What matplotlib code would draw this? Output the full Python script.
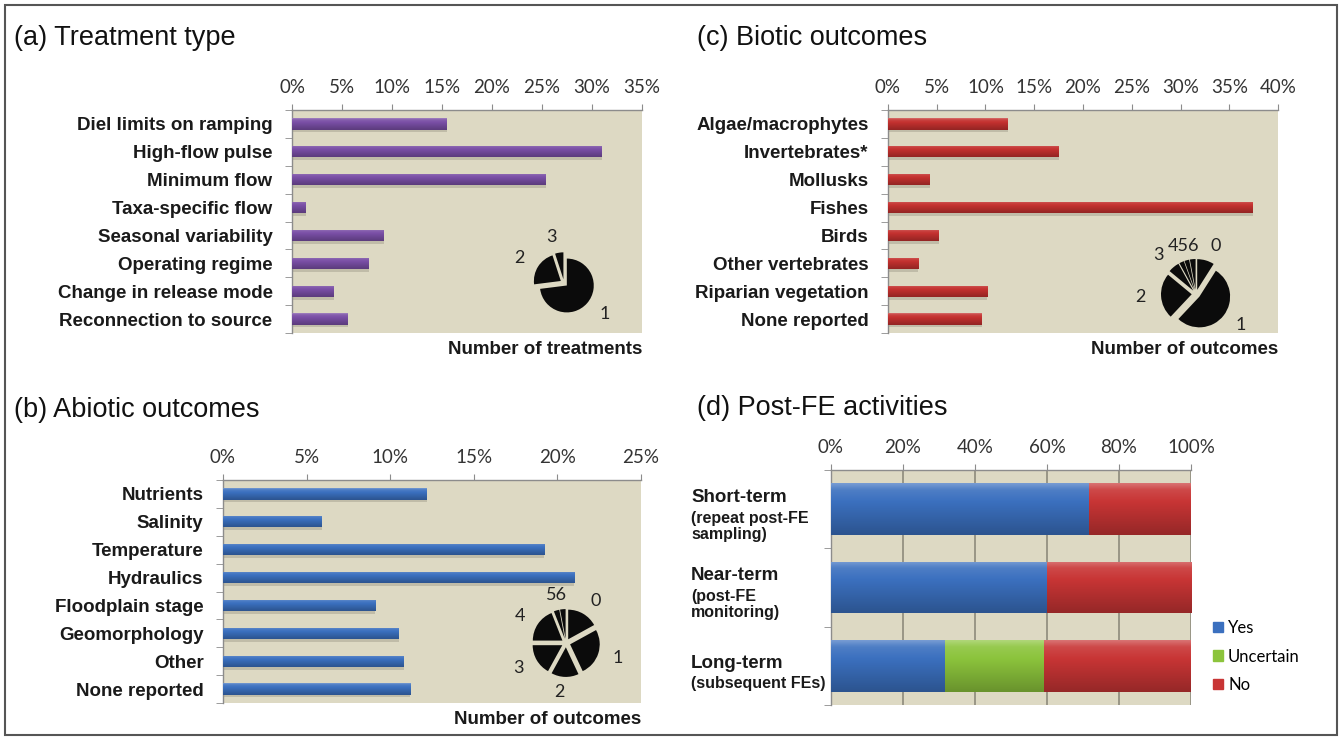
import numpy as np
import matplotlib
matplotlib.use("Agg")
import matplotlib.pyplot as plt
from matplotlib.colors import to_rgb
from matplotlib.patches import Patch, Rectangle
from matplotlib.ticker import PercentFormatter

plt.rcParams["font.family"] = ["Liberation Sans", "DejaVu Sans"]

# ---- data ----
treat_labels = ["Diel limits on ramping", "High-flow pulse", "Minimum flow",
                "Taxa-specific flow", "Seasonal variability", "Operating regime",
                "Change in release mode", "Reconnection to source"]
treat_pct = [15.5, 31.0, 25.4, 1.4, 9.2, 7.7, 4.2, 5.6]
treat_pie_labels = ["1", "2", "3"]
treat_pie = [73, 22, 5]

abiotic_labels = ["Nutrients", "Salinity", "Temperature", "Hydraulics",
                  "Floodplain stage", "Geomorphology", "Other", "None reported"]
abiotic_pct = [12.2, 5.9, 19.2, 21.0, 9.1, 10.5, 10.8, 11.2]
abiotic_pie_labels = ["0", "1", "2", "3", "4", "5", "6"]
abiotic_pie = [17, 26, 15, 17, 19, 3, 3]

biotic_labels = ["Algae/macrophytes", "Invertebrates*", "Mollusks", "Fishes",
                 "Birds", "Other vertebrates", "Riparian vegetation", "None reported"]
biotic_pct = [12.3, 17.5, 4.3, 37.4, 5.2, 3.1, 10.2, 9.6]
biotic_pie_labels = ["0", "1", "2", "3", "4", "5", "6"]
biotic_pie = [9, 53, 24, 6, 2.5, 2.5, 3]

post_terms = ["Short-term", "Near-term", "Long-term"]
post_notes = ["(repeat post-FE\nsampling)", "(post-FE\nmonitoring)", "(subsequent FEs)"]
post_yes = [71.8, 59.9, 31.7]
post_unc = [0, 0, 27.6]
post_no = [28.2, 40.1, 40.7]

W, H = 1342, 739
BEIGE = "#ddd9c3"
GRAY = "#8c8c8c"
PURPLE = "#7a4fa6"
RED = "#c4312f"
BLUE = "#3b70bf"
GREEN = "#8cc43c"
RED2 = "#c83535"
TICKFONT = ["Lato", "DejaVu Sans"]

fig = plt.figure(figsize=(W / 100, H / 100), dpi=100)


def px_box(left, top, right, bottom):
    return [left / W, 1 - bottom / H, (right - left) / W, (bottom - top) / H]


def shade_bars(ax, bars, color):
    # excel-style gradient: light rim at the top, darker towards the bottom
    base = np.array(to_rgb(color))
    t = np.linspace(0, 1, 40)
    prof = np.interp(t, [0, 0.12, 0.35, 1], [0.3, 0.1, 0.0, -0.25])
    rows = np.array([base + p * (1 - base) if p > 0 else base * (1 + p) for p in prof])
    grad = rows[:, None, :]
    for b in bars:
        w = b.get_width()
        if w <= 0:
            continue
        x0, y0, h = b.get_x(), b.get_y(), b.get_height()
        im = ax.imshow(grad, extent=(x0, x0 + w, y0 + h, y0), aspect="auto",
                       interpolation="bilinear", zorder=b.get_zorder() + 0.1)
        im.set_clip_path(b)


def style_axes(ax, xmax, step, n):
    ax.set_facecolor(BEIGE)
    ax.set_xlim(0, xmax)
    ax.set_ylim(n - 0.5, -0.5)
    ax.set_aspect("auto")
    ax.xaxis.tick_top()
    ax.set_xticks(np.arange(0, xmax + step / 2, step))
    ax.xaxis.set_major_formatter(PercentFormatter(decimals=0))
    ax.tick_params(axis="x", direction="out", length=4, color=GRAY, pad=6,
                   labelsize=13.5, labelcolor="#333333")
    for lab in ax.get_xticklabels():
        lab.set_fontfamily(TICKFONT)
    ax.set_yticks(np.arange(n + 1) - 0.5, minor=True)
    ax.tick_params(axis="y", which="major", length=0, pad=14)
    ax.tick_params(axis="y", which="minor", length=5, color=GRAY)
    for side in ["right", "bottom"]:
        ax.spines[side].set_visible(False)
    for side in ["top", "left"]:
        ax.spines[side].set_color(GRAY)
        ax.spines[side].set_linewidth(1)


def bar_panel(box, labels, values, xmax, step, color, xlabel):
    ax = fig.add_axes(px_box(*box))
    y = np.arange(len(labels))
    ax.barh(y + 0.1, values, height=0.4, color="#8a8676", alpha=0.35, zorder=2)
    bars = ax.barh(y, values, height=0.4, color=color, zorder=3)
    shade_bars(ax, bars, color)
    style_axes(ax, xmax, step, len(labels))
    ax.set_yticks(y, labels, fontsize=13.5, fontweight="bold", color="#1a1a1a")
    ax.annotate(xlabel, xy=(1, 0), xycoords="axes fraction", xytext=(0, -17),
                textcoords="offset pixels", ha="right", va="center",
                fontsize=13.5, fontweight="bold", color="#1a1a1a")
    return ax


def merge_labels(texts, idx):
    pos = np.mean([texts[i].get_position() for i in idx], axis=0)
    texts[idx[0]].set_text("".join(texts[i].get_text() for i in idx))
    texts[idx[0]].set_position(pos)
    texts[idx[0]].set_ha("center")
    for i in idx[1:]:
        texts[i].set_visible(False)


def pie_inset(cx, cy, values, labels, radius, labeldist, explode, merge=None):
    S, lim = 140, 2.6
    pax = fig.add_axes([(cx - S / 2) / W, 1 - (cy + S / 2) / H, S / W, S / H])
    wedges, texts = pax.pie(values, labels=labels, startangle=90, counterclock=False,
                            radius=radius, explode=[explode] * len(values),
                            colors=["#0b0b0b"] * len(values),
                            labeldistance=labeldist,
                            textprops=dict(fontsize=13, family=TICKFONT, color="#222222"))
    if merge:
        merge_labels(texts, merge)
    pax.set_xlim(-lim, lim)
    pax.set_ylim(-lim, lim)
    pax.set_aspect("equal")
    pax.axis("off")


# (a) Treatment type
bar_panel((292, 110, 642, 333), treat_labels, treat_pct, 35, 5, PURPLE, "Number of treatments")
pie_inset(564, 283, treat_pie, treat_pie_labels, 1.0, 1.6, 0.14)

# (c) Biotic outcomes
bar_panel((888, 110, 1278, 333), biotic_labels, biotic_pct, 40, 5, RED, "Number of outcomes")
pie_inset(1196, 294, biotic_pie, biotic_pie_labels, 1.14, 1.5, 0.16, merge=[4, 5, 6])

# (b) Abiotic outcomes
bar_panel((223, 480, 641, 703), abiotic_labels, abiotic_pct, 25, 5, BLUE, "Number of outcomes")
pie_inset(566, 643, abiotic_pie, abiotic_pie_labels, 1.1, 1.5, 0.16, merge=[5, 6])

# (d) Post-FE activities
ax = fig.add_axes(px_box(831, 470, 1191, 705))
y = np.arange(len(post_terms))
lefts_no = np.add(post_yes, post_unc)
for vals, lefts, col in [(post_yes, 0, BLUE), (post_unc, post_yes, GREEN), (post_no, lefts_no, RED2)]:
    bars = ax.barh(y, vals, left=lefts, height=0.66, color=col, zorder=3)
    shade_bars(ax, bars, col)
style_axes(ax, 100, 20, len(post_terms))
ax.grid(axis="x", color="#8d8a7c", linewidth=1.2, zorder=1)
ax.set_axisbelow(True)
ax.set_yticks(y, [""] * len(y))
for i, (term, note) in enumerate(zip(post_terms, post_notes)):
    nlines = note.count("\n") + 1
    top = 8 - (25 + 18 * nlines) / 2
    ax.annotate(term, xy=(691 / W, i), xycoords=("figure fraction", "data"),
                xytext=(0, -(top + 11)), textcoords="offset pixels",
                ha="left", va="center", fontsize=13.5, fontweight="bold", color="#1a1a1a")
    ax.annotate(note, xy=(691 / W, i), xycoords=("figure fraction", "data"),
                xytext=(0, -(top + 24)), textcoords="offset pixels",
                ha="left", va="top", fontsize=11.5, fontweight="bold",
                color="#1a1a1a", linespacing=1.1)

handles = [Patch(color=BLUE), Patch(color=GREEN), Patch(color=RED2)]
fig.legend(handles, ["Yes", "Uncertain", "No"], loc="upper left",
           bbox_to_anchor=(1213 / W, 1 - 620 / H), frameon=False,
           handlelength=0.6, handleheight=0.6, handletextpad=0.3,
           labelspacing=0.75, borderpad=0, borderaxespad=0,
           prop=dict(family=TICKFONT, size=12))

# panel titles
for x, yy, title in [(14, 38, "(a) Treatment type"), (697, 38, "(c) Biotic outcomes"),
                     (14, 410, "(b) Abiotic outcomes"), (697, 408, "(d) Post-FE activities")]:
    fig.text(x / W, 1 - yy / H, title, fontsize=19.5, ha="left", va="center", color="#111111")

fig.add_artist(Rectangle((5 / W, 4 / H), 1332 / W, 730 / H, transform=fig.transFigure,
                         fill=False, edgecolor="#555555", linewidth=1.5))

fig.savefig("out.png", dpi=100)
